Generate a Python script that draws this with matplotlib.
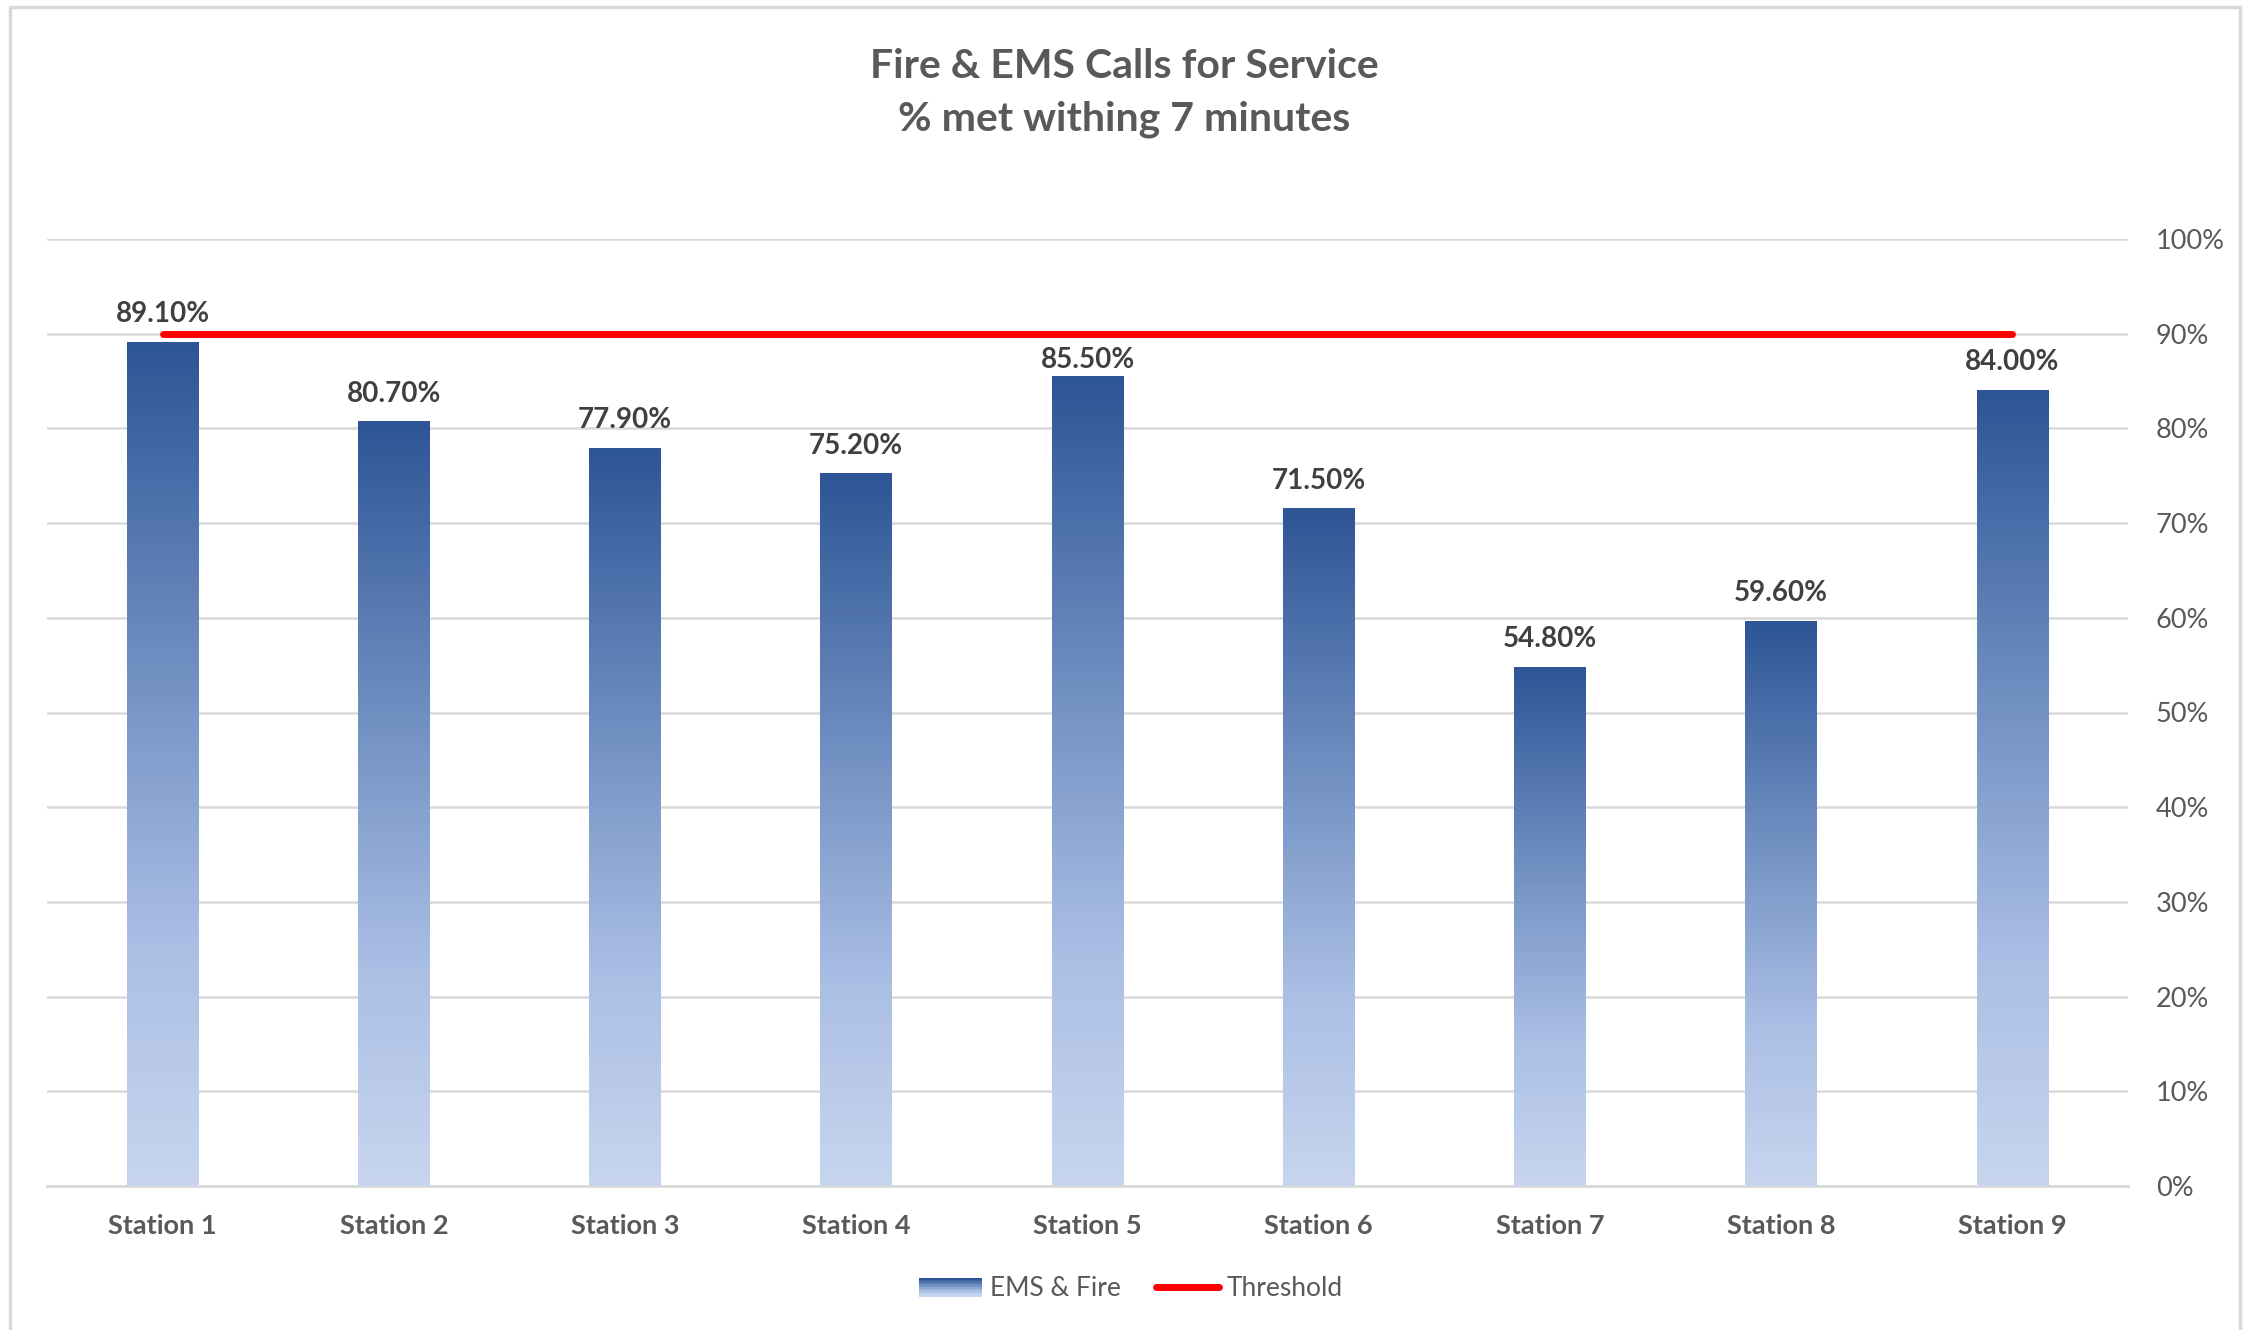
import matplotlib.pyplot as plt
import numpy as np
from matplotlib.colors import LinearSegmentedColormap
from matplotlib.patches import Rectangle
from matplotlib.legend_handler import HandlerBase
from matplotlib.lines import Line2D

plt.rcParams['font.family'] = ['Lato', 'DejaVu Sans']

# data
stations = ["Station 1", "Station 2", "Station 3", "Station 4", "Station 5",
            "Station 6", "Station 7", "Station 8", "Station 9"]
ems_fire = [0.891, 0.807, 0.779, 0.752, 0.855, 0.715, 0.548, 0.596, 0.840]
threshold = [0.90] * 9
yticks = [0, 0.1, 0.2, 0.3, 0.4, 0.5, 0.6, 0.7, 0.8, 0.9, 1.0]

grad = LinearSegmentedColormap.from_list(
    "bar", [(0.0, "#c7d5ee"), (0.28, "#abbfe5"), (0.62, "#6f8fc1"), (1.0, "#2e5596")])


class GradientHandler(HandlerBase):
    def create_artists(self, legend, orig, xd, yd, w, h, fs, trans):
        arts = []
        n = 12
        for i in range(n):
            r = Rectangle((xd, yd + h * i / n), w, h / n + 0.3,
                          facecolor=grad(i / (n - 1)), edgecolor='none', transform=trans)
            arts.append(r)
        return arts


def draw():
    fig = plt.figure(figsize=(22.48, 13.30), dpi=100)
    fig.patches.append(Rectangle((10 / 2248, -0.01), 2230 / 2248, 1.01 - 7 / 1330,
                                 transform=fig.transFigure, fill=False,
                                 edgecolor="#d9d9d9", linewidth=2.5))
    ax = fig.add_axes([47 / 2248, 1 - 1186 / 1330, 2081 / 2248, 947 / 1330])

    x = np.arange(len(stations))
    w = 0.31
    for xi, v, th in zip(x, ems_fire, threshold):
        ax.imshow(np.linspace(1, 0, 200).reshape(-1, 1), cmap=grad, aspect='auto',
                  extent=(xi - w / 2, xi + w / 2, 0, v), zorder=3, interpolation='bilinear')
        # label sits lower when it would run into the threshold line
        off = 0.016
        if v + off + 0.03 > th - 0.005 and v < th - 0.03:
            off = 0.004
        ax.text(xi, v + off, "%.2f%%" % (v * 100), ha='center', va='bottom',
                fontsize=20, fontweight='bold', color="#404040", zorder=5)

    ax.plot(x, threshold, color="#ff0000", linewidth=5, solid_capstyle='round', zorder=6)

    ax.set_xlim(-0.5, len(stations) - 0.5)
    ax.set_ylim(0, 1.0)
    ax.set_xticks(x)
    ax.set_xticklabels(stations, fontsize=19.5, fontweight='bold', color="#595959")
    ax.set_yticks(yticks)
    ax.set_yticklabels(["%d%%" % round(t * 100) for t in yticks], fontsize=19.5, color="#595959")
    ax.yaxis.tick_right()
    ax.tick_params(axis='y', length=0, pad=20)
    ax.tick_params(axis='x', length=0, pad=20)
    ax.grid(axis='y', color="#d9d9d9", linewidth=1.8, zorder=0)
    ax.set_axisbelow(True)
    for s in ["top", "left", "right"]:
        ax.spines[s].set_visible(False)
    ax.spines["bottom"].set_color("#d9d9d9")
    ax.spines["bottom"].set_linewidth(2)
    ax.spines["bottom"].set_zorder(2)

    fig.text(0.5, 1 - 93 / 1330, "Fire & EMS Calls for Service\n% met withing 7 minutes",
             ha='center', va='center', fontsize=29.5, fontweight='bold', color="#595959",
             linespacing=1.52)

    h_bar = Rectangle((0, 0), 1, 1)
    h_line = Line2D([0], [0], color="#ff0000", linewidth=5, solid_capstyle='round')
    leg = fig.legend([h_bar, h_line], ["EMS & Fire", "Threshold"], loc='center',
                     bbox_to_anchor=(0.5 + 7 / 2248, 1 - 1289 / 1330), ncol=2, frameon=False,
                     fontsize=19, handlelength=2.4, handletextpad=0.3, columnspacing=1.3,
                     handler_map={Rectangle: GradientHandler()})
    for t in leg.get_texts():
        t.set_color("#595959")

    fig.savefig("out.png", dpi=100)


if __name__ == "__main__":
    draw()
